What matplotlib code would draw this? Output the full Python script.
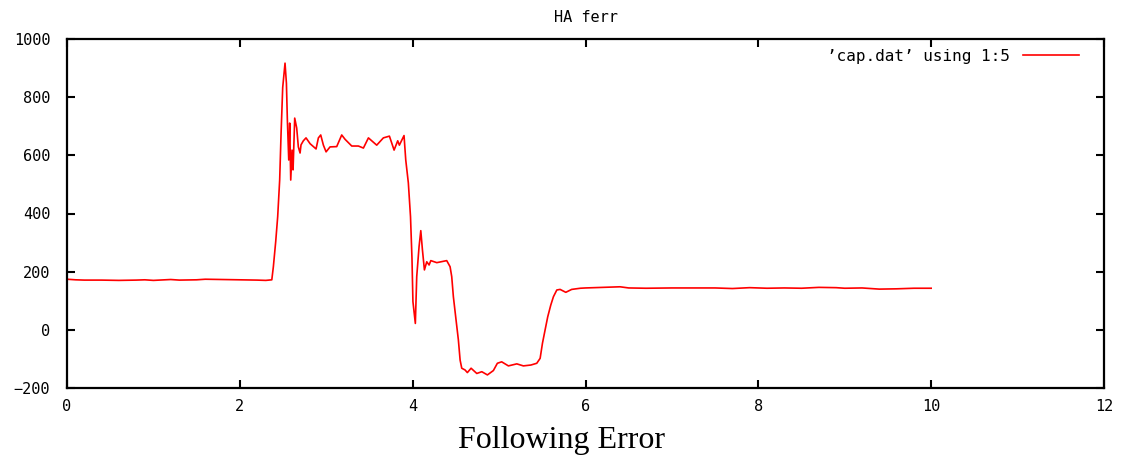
# HA following error from cap.dat (column 5 vs column 1)

import matplotlib.pyplot as plt

t = [0.0, 0.1, 0.2, 0.4, 0.6, 0.8, 0.9, 1.0, 1.2, 1.3, 1.5, 1.6, 1.8, 2.0,
     2.2, 2.3, 2.37,
     2.388, 2.415, 2.438, 2.461, 2.477, 2.496, 2.523, 2.539, 2.550, 2.566,
     2.577, 2.589, 2.604, 2.616, 2.635, 2.658, 2.677, 2.697, 2.708, 2.735,
     2.766, 2.813, 2.882, 2.909, 2.936, 2.967, 2.998, 3.044, 3.121, 3.179,
     3.218, 3.295, 3.372, 3.430, 3.488, 3.584, 3.661, 3.731, 3.785, 3.827,
     3.846, 3.900, 3.920, 3.950, 3.975, 3.992, 4.003, 4.031, 4.047, 4.074,
     4.094, 4.113, 4.136, 4.163, 4.190, 4.210, 4.279, 4.394, 4.433, 4.452,
     4.471, 4.502, 4.529, 4.549, 4.568, 4.606, 4.633, 4.676, 4.742, 4.800,
     4.865, 4.934, 4.980, 5.030, 5.108, 5.205, 5.281, 5.368, 5.436, 5.475,
     5.502, 5.532, 5.563, 5.598, 5.629, 5.668, 5.706, 5.772, 5.840, 5.940,
     6.0, 6.2, 6.4, 6.5, 6.7, 7.0, 7.5, 7.7, 7.9, 8.1, 8.3, 8.5, 8.7, 8.9,
     9.0, 9.2, 9.4, 9.6, 9.8, 10.0]

ferr = [174, 172, 171, 171, 170, 171, 172, 170, 173, 171, 172, 174, 173, 172,
        171, 170, 172,
        217, 303, 389, 515, 673, 833, 917, 848, 722, 584,
        711, 515, 618, 550, 728, 694, 629, 608, 636, 650,
        660, 640, 622, 660, 670, 635, 612, 629, 630, 670,
        655, 632, 632, 625, 660, 635, 660, 666, 618, 650,
        635, 668, 584, 505, 389, 246, 97, 22, 183, 286,
        341, 275, 206, 234, 223, 238, 231, 238, 217, 183,
        114, 34, -35, -104, -132, -138, -147, -132, -150, -144,
        -155, -140, -115, -110, -124, -117, -124, -121, -115, -98,
        -46, -1, 45, 85, 114, 137, 139, 129, 139, 143,
        144, 146, 148, 144, 143, 144, 144, 142, 145, 143, 144, 143, 146, 145,
        143, 144, 140, 141, 143, 143]

xticks = [0, 2, 4, 6, 8, 10, 12]
yticks = [-200, 0, 200, 400, 600, 800, 1000]

mono = 'DejaVu Sans Mono'

fig = plt.figure(figsize=(11.22, 4.57), dpi=100)
ax = fig.add_axes([67 / 1122, 1 - 388 / 457, (1104 - 67) / 1122, (388 - 39) / 457])

ax.plot(t, ferr, color='#ff0000', lw=1.2, label='\u2019cap.dat\u2019 using 1:5')

ax.set_xlim(0, 12)
ax.set_ylim(-200, 1000)
ax.set_xticks(xticks)
ax.set_yticks(yticks)
ax.tick_params(direction='in', length=6, width=1.5, top=True, right=True,
               labelsize=11)
ax.tick_params(axis='y', pad=12)
ax.tick_params(axis='x', pad=8)
for lab in ax.get_xticklabels() + ax.get_yticklabels():
    lab.set_family(mono)
for s in ax.spines.values():
    s.set_linewidth(1.6)

ax.set_title('HA ferr', fontsize=11, family=mono, pad=12)

ax.legend(loc='upper right', frameon=False, markerfirst=False,
          prop={'family': mono, 'size': 11.5}, handlelength=3.5,
          borderaxespad=0.2, bbox_to_anchor=(0.985, 1.0))

# caption under the plot
fig.text(0.5, 1 - 448 / 457, 'Following Error', ha='center', va='baseline',
         fontsize=23, family='Liberation Serif')

plt.savefig('out.png')
